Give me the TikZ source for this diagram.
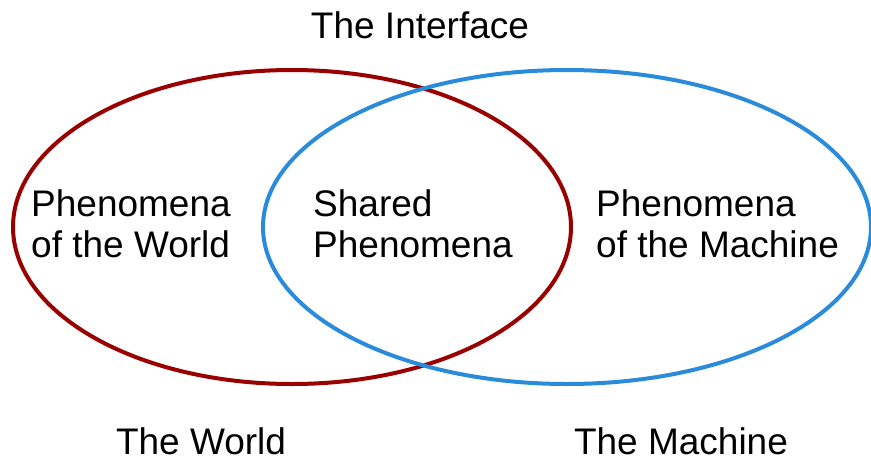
\documentclass[tikz,border=0pt]{standalone}
\usepackage{fontspec}
\setmainfont{Liberation Sans}
\definecolor{worldred}{HTML}{990000}
\definecolor{machineblue}{HTML}{2B8BDB}
\begin{document}
\begin{tikzpicture}[x=1pt,y=-1pt,
  lbl/.style={font=\fontsize{37}{41}\selectfont, inner sep=0pt, align=left},
  ring/.style={line width=4pt}]
\useasboundingbox (0,0) rectangle (871,456);
\draw[ring, worldred] (292,227) ellipse [x radius=279, y radius=157];
\draw[ring, machineblue] (567,227) ellipse [x radius=304, y radius=157];
\node[lbl, anchor=base] (iface) at (420,38) {The Interface};
\node[lbl, anchor=north west] (pw) at (31,189) {Phenomena\\of the World};
\node[lbl, anchor=north west] (sp) at (313,189) {Shared\\Phenomena};
\node[lbl, anchor=north west] (pm) at (596,189) {Phenomena\\of the Machine};
\node[lbl, anchor=base] (tw) at (201,454) {The World};
\node[lbl, anchor=base] (tm) at (681,454) {The Machine};
\end{tikzpicture}
\end{document}
